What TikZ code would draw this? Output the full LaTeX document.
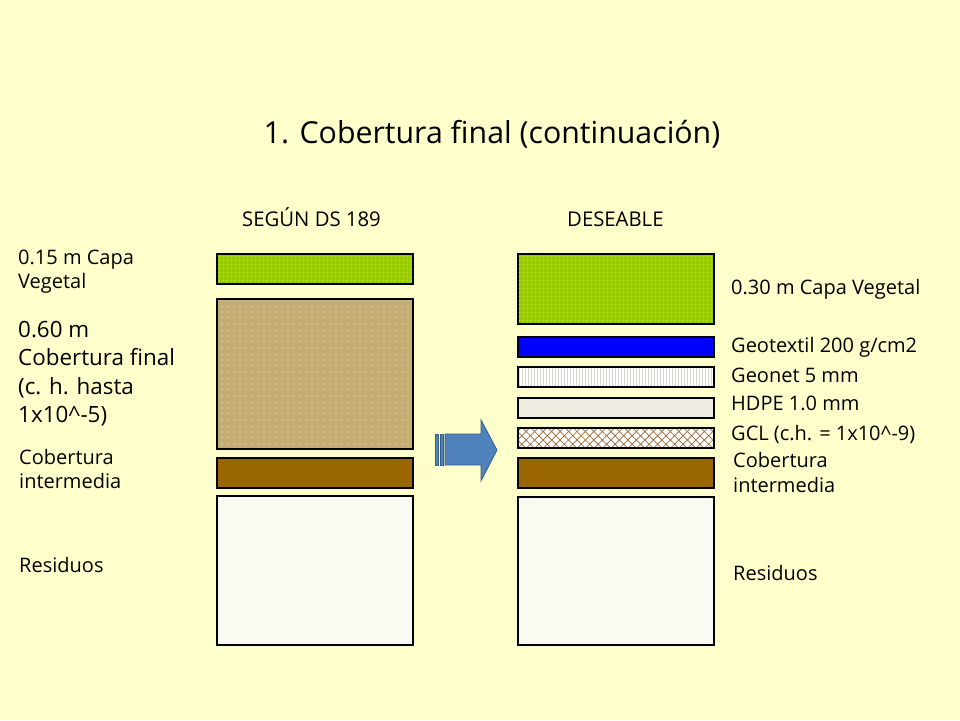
\documentclass[tikz,border=0pt]{standalone}
\usepackage{fontspec}
\setmainfont{Open Sans}
\usetikzlibrary{patterns.meta}
\definecolor{bg}{HTML}{FFFFCC}
\definecolor{vegetal}{HTML}{99CC00}
\definecolor{tan}{HTML}{C4AD72}
\definecolor{intermedia}{HTML}{996600}
\definecolor{geotextil}{HTML}{0000FF}
\definecolor{hdpe}{HTML}{EEECE1}
\definecolor{gcl}{HTML}{996633}
\definecolor{residuo}{HTML}{FAFAF3}
\definecolor{arrowfill}{HTML}{4F81BD}
\definecolor{arrowline}{HTML}{385D8A}
\tikzset{
  layer/.style={draw=black, line width=1.4pt},
  lbl/.style={anchor=base west, inner sep=0pt, font=\fontsize{20}{24}\selectfont},
  biglbl/.style={anchor=base west, inner sep=0pt, font=\fontsize{22.4}{26}\selectfont},
  head/.style={anchor=base west, inner sep=0pt, font=\fontsize{20.3}{24}\selectfont},
}
\begin{document}
\begin{tikzpicture}[x=1pt,y=-1pt]
\fill[bg] (0,0) rectangle (960,720);
\useasboundingbox (0,0) rectangle (960,720);

% title
\node[anchor=base, inner sep=0pt, font=\fontsize{30.3}{34}\selectfont] (title) at (492,143) {1. Cobertura final (continuación)};
\node[head] (hleft) at (242,226) {SEGÚN DS 189};
\node[head] (hright) at (567,226) {DESEABLE};

% ---------- left column ----------
\fill[vegetal] (217,254) rectangle (413,284);
\fill[pattern={Dots[radius=0.55pt,distance=4pt]}, pattern color=white!75!vegetal] (217,254) rectangle (413,284);
\draw[layer] (217,254) rectangle (413,284) node[midway] (lveg) {};

\fill[tan] (217,299) rectangle (413,449);
\fill[pattern={Dots[radius=0.6pt,distance=6pt]}, pattern color=white!85!tan] (217,299) rectangle (413,449);
\draw[layer] (217,299) rectangle (413,449) node[midway] (lcob) {};

\fill[intermedia] (217,458) rectangle (413,488);
\draw[layer] (217,458) rectangle (413,488) node[midway] (lint) {};

\fill[residuo] (217,496) rectangle (413,645);
\draw[layer] (217,496) rectangle (413,645) node[midway] (lres) {};

% left labels
\node[lbl] (l1a) at (18,264) {0.15 m Capa};
\node[lbl] (l1b) at (18,288) {Vegetal};
\node[biglbl] (l2a) at (18,337) {0.60 m};
\node[biglbl] (l2b) at (18,365) {Cobertura final};
\node[biglbl] (l2c) at (18,394) {(c. h. hasta};
\node[biglbl] (l2d) at (18,422) {1x10\^{}-5)};
\node[lbl] (l3a) at (19,464) {Cobertura};
\node[lbl] (l3b) at (19,488) {intermedia};
\node[lbl] (l4) at (19,572) {Residuos};

% ---------- arrow ----------
\draw[arrowline, fill=arrowfill, line width=0.8pt] (435,434) rectangle (438,465);
\draw[arrowline, fill=arrowfill, line width=0.8pt] (440,434) rectangle (443.5,465);
\draw[arrowline, fill=arrowfill, line width=0.8pt] (445,434) -- (481,434) -- (481,420) -- (497,450) -- (481,481) -- (481,465) -- (445,465) -- cycle;

% ---------- right column ----------
\fill[vegetal] (518,254) rectangle (714,324);
\fill[pattern={Dots[radius=0.55pt,distance=4pt]}, pattern color=white!75!vegetal] (518,254) rectangle (714,324);
\draw[layer] (518,254) rectangle (714,324) node[midway] (rveg) {};

\fill[geotextil] (518,337) rectangle (714,357);
\draw[layer] (518,337) rectangle (714,357) node[midway] (rgeo) {};

\fill[white] (518,367) rectangle (714,387);
\fill[pattern={Lines[angle=90,distance=3pt,line width=0.8pt]}, pattern color=hdpe!80!gray] (518,367) rectangle (714,387);
\draw[layer] (518,367) rectangle (714,387) node[midway] (rnet) {};

\fill[hdpe] (518,398) rectangle (714,418);
\draw[layer] (518,398) rectangle (714,418) node[midway] (rhdpe) {};

\fill[white] (518,428) rectangle (714,448);
\fill[pattern={Lines[angle=45,distance=6pt,line width=0.7pt]}, pattern color=gcl] (518,428) rectangle (714,448);
\fill[pattern={Lines[angle=-45,distance=6pt,line width=0.7pt]}, pattern color=gcl] (518,428) rectangle (714,448);
\draw[layer] (518,428) rectangle (714,448) node[midway] (rgcl) {};

\fill[intermedia] (518,458) rectangle (714,488);
\draw[layer] (518,458) rectangle (714,488) node[midway] (rint) {};

\fill[residuo] (518,497) rectangle (714,645);
\draw[layer] (518,497) rectangle (714,645) node[midway] (rres) {};

% right labels
\node[lbl] (r1) at (731,294) {0.30 m Capa Vegetal};
\node[lbl] (r2) at (731,352) {Geotextil 200 g/cm2};
\node[lbl] (r3) at (731,382) {Geonet 5 mm};
\node[lbl] (r4) at (731,410) {HDPE 1.0 mm};
\node[lbl] (r5) at (731,440) {GCL (c.h. = 1x10\^{}-9)};
\node[lbl] (r6a) at (733,467) {Cobertura};
\node[lbl] (r6b) at (733,492) {intermedia};
\node[lbl] (r7) at (733,580) {Residuos};
\end{tikzpicture}
\end{document}
